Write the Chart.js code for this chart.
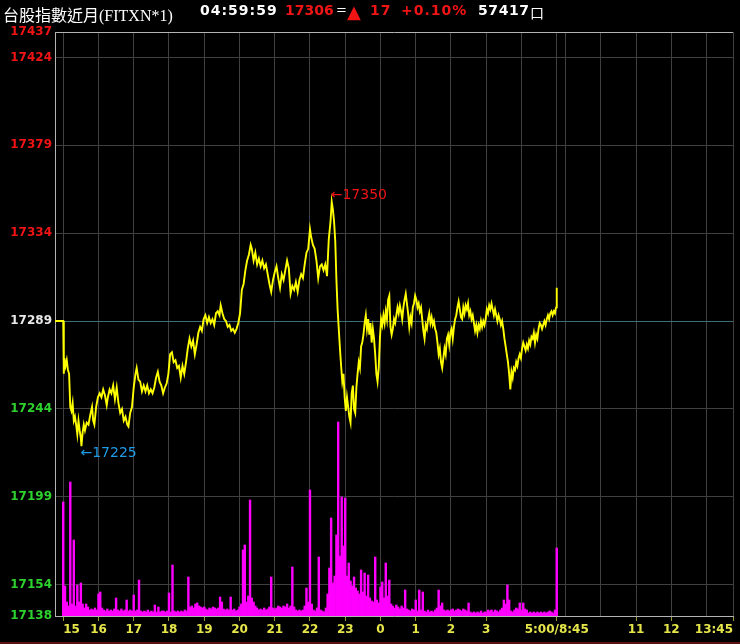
<!DOCTYPE html>
<html>
<head>
<meta charset="utf-8">
<script src="https://cdn.jsdelivr.net/npm/chart.js@4.4.1/dist/chart.umd.min.js"></script>
<style>
  html, body { margin: 0; padding: 0; background: #000; }
  #wrap { position: relative; width: 740px; height: 644px; overflow: hidden; }
  #chart { position: absolute; left: 0; top: 0; }
  .hd { position: absolute; top: 2px; line-height: 20px; white-space: nowrap; }
  .name { font: 16px "Liberation Serif", "Noto Sans CJK TC", serif; color: #fff; }
  .b { font: bold 14px "DejaVu Sans", sans-serif; }
  .white { color: #fff; }
  .red { color: #f01414; }
  #edge { position: absolute; left: 0; bottom: 0; width: 740px; height: 2px; background: #5a1212; }
</style>
</head>
<body>
<div id="wrap">
  <canvas id="chart" width="740" height="644"></canvas>
  <span class="hd name" style="left:3px">台股指數近月(FITXN*1)</span>
  <span class="hd b white" style="left:200px;letter-spacing:1px">04:59:59</span>
  <span class="hd b red" style="left:285px">17306</span>
  <span class="hd white" style="left:336px;font:13px 'DejaVu Sans'">=</span>
  <span class="hd red" style="left:347px;top:1px;font:18px 'DejaVu Sans'">▲</span>
  <span class="hd b red" style="left:370px;letter-spacing:1px">17</span>
  <span class="hd b red" style="left:401px;letter-spacing:1px">+0.10%</span>
  <span class="hd b white" style="left:478px;letter-spacing:0.6px">57417</span>
  <span class="hd white" style="left:530px;font:14px 'Noto Sans CJK TC'">口</span>
  <div id="edge"></div>
</div>
<script>
// minutes since 15:00 (night session 15:00-05:00, then day session 08:45-13:45)
const priceTimes = [
  -14, 0, 1, 2, 4, 6, 8, 10, 12, 14, 16, 18, 20, 22, 24, 26, 28, 30, 31, 33, 35, 37, 40, 43, 46, 49, 51, 53, 56, 59,
  62, 65, 68, 71, 74, 76, 79, 82, 85, 88, 91, 94, 97, 100, 103, 106, 109, 111, 114, 117, 120, 123, 125, 128, 131, 134, 137, 140, 143, 146,
  149, 152, 155, 158, 161, 164, 167, 170, 173, 176, 179, 182, 185, 188, 191, 194, 197, 200, 203, 206, 209, 212, 215, 218, 221, 224, 227, 230, 233, 236,
  239, 242, 245, 248, 251, 254, 257, 260, 263, 266, 268, 271, 274, 277, 280, 283, 286, 289, 292, 295, 298, 301, 304, 307, 310, 313, 316, 319, 321, 324,
  327, 330, 333, 336, 339, 342, 345, 348, 351, 354, 357, 360, 363, 366, 369, 372, 375, 378, 381, 384, 387, 390, 393, 396, 399, 402, 405, 408, 411, 414,
  417, 420, 422, 425, 428, 431, 434, 437, 440, 443, 446, 449, 452, 455, 457, 459, 461, 463, 465, 467, 469, 471, 473, 475, 477, 479, 481, 483, 485, 487,
  489, 491, 493, 495, 497, 499, 501, 503, 505, 507, 509, 511, 513, 515, 517, 519, 521, 523, 525, 527, 529, 531, 533, 535, 537, 539, 541, 543, 545, 547,
  549, 551, 553, 555, 557, 559, 561, 563, 565, 567, 569, 571, 573, 575, 577, 579, 581, 583, 585, 587, 589, 591, 593, 595, 597, 599, 601, 603, 605, 607,
  609, 611, 613, 615, 617, 619, 621, 623, 625, 627, 629, 631, 633, 635, 637, 639, 641, 643, 645, 647, 649, 651, 653, 655, 657, 659, 661, 663, 665, 667,
  669, 671, 673, 675, 677, 679, 681, 683, 685, 687, 689, 691, 693, 695, 697, 699, 701, 703, 705, 707, 709, 711, 713, 715, 717, 719, 721, 723, 725, 727,
  729, 731, 733, 735, 737, 739, 741, 743, 745, 747, 749, 751, 753, 755, 757, 759, 761, 763, 765, 767, 769, 771, 773, 775, 777, 779, 781, 783, 785, 787,
  789, 791, 793, 795, 797, 799, 801, 803, 805, 807, 809, 811, 813, 815, 817, 819, 821, 823, 825, 827, 829, 831, 833, 835, 837, 838, 839, 840
];
const prices = [
  17289, 17289, 17262, 17270, 17266, 17269, 17264, 17262, 17245, 17243, 17247, 17238, 17240, 17236, 17231, 17238, 17233, 17229, 17225, 17232, 17236, 17233, 17237, 17236, 17241, 17245, 17238, 17236, 17245, 17250,
  17252, 17250, 17254, 17251, 17246, 17250, 17254, 17252, 17256, 17249, 17255, 17247, 17242, 17244, 17238, 17240, 17236, 17235, 17242, 17245, 17255, 17262, 17265, 17259, 17258, 17253, 17256, 17253, 17256, 17252,
  17254, 17252, 17255, 17260, 17263, 17258, 17256, 17252, 17255, 17257, 17262, 17272, 17273, 17268, 17269, 17265, 17266, 17260, 17266, 17262, 17268, 17275, 17280, 17276, 17279, 17272, 17277, 17283, 17286, 17284,
  17290, 17292, 17288, 17291, 17288, 17290, 17287, 17293, 17294, 17292, 17297, 17293, 17290, 17289, 17286, 17287, 17284, 17285, 17283, 17285, 17288, 17293, 17305, 17308, 17315, 17320, 17323, 17328, 17326, 17320,
  17324, 17318, 17321, 17317, 17320, 17316, 17318, 17313, 17308, 17304, 17310, 17314, 17317, 17311, 17306, 17313, 17310, 17315, 17320, 17316, 17303, 17307, 17305, 17309, 17304, 17310, 17313, 17311, 17318, 17324,
  17326, 17336, 17332, 17328, 17326, 17320, 17311, 17317, 17318, 17315, 17318, 17312, 17331, 17340, 17350, 17346, 17340, 17330, 17310, 17295, 17285, 17275, 17266, 17258, 17262, 17250, 17243, 17250, 17245, 17240,
  17237, 17252, 17256, 17244, 17242, 17255, 17262, 17268, 17265, 17276, 17278, 17282, 17288, 17292, 17285, 17290, 17282, 17288, 17278, 17285, 17280, 17272, 17262, 17258, 17265, 17280, 17290, 17287, 17292, 17288,
  17294, 17290, 17300, 17302, 17286, 17282, 17285, 17290, 17288, 17292, 17296, 17293, 17297, 17294, 17290, 17296, 17300, 17303, 17298, 17293, 17286, 17291, 17288, 17296, 17298, 17302, 17300, 17296, 17298, 17294,
  17296, 17290, 17284, 17280, 17287, 17285, 17290, 17293, 17288, 17291, 17287, 17289, 17285, 17283, 17278, 17272, 17275, 17268, 17265, 17270, 17275, 17272, 17280, 17282, 17277, 17283, 17285, 17280, 17286, 17290,
  17292, 17296, 17299, 17295, 17291, 17290, 17296, 17293, 17297, 17295, 17298, 17292, 17294, 17290, 17292, 17288, 17284, 17287, 17283, 17287, 17285, 17289, 17286, 17289, 17287, 17290, 17295, 17293, 17297, 17295,
  17298, 17295, 17292, 17295, 17292, 17289, 17292, 17290, 17287, 17289, 17285, 17280, 17276, 17272, 17268, 17262, 17254, 17263, 17260, 17265, 17264, 17268, 17266, 17270, 17272, 17270, 17275, 17278, 17276, 17274,
  17277, 17275, 17279, 17277, 17281, 17280, 17283, 17278, 17282, 17280, 17285, 17288, 17287, 17285, 17287, 17289, 17287, 17290, 17292, 17290, 17293, 17294, 17292, 17294, 17293, 17295, 17296, 17306
];
// volume per 3-minute slot, starting 15:00
const volStep = 3;
const volumes = [
  114, 30, 14, 10, 134, 12, 76, 10, 31, 14, 33, 12, 8, 12, 9, 6, 7, 6, 8, 6,
  22, 24, 8, 6, 5, 7, 5, 6, 5, 7, 18, 6, 5, 7, 5, 6, 16, 5, 6, 5,
  21, 5, 6, 36, 5, 4, 5, 4, 6, 4, 5, 4, 11, 4, 9, 4, 5, 5, 4, 5,
  23, 4, 51, 5, 4, 5, 4, 5, 4, 6, 5, 39, 9, 10, 8, 12, 13, 10, 9, 8,
  9, 7, 6, 8, 7, 9, 8, 7, 8, 19, 14, 7, 6, 7, 6, 19, 6, 7, 5, 6,
  9, 12, 66, 71, 14, 20, 116, 18, 14, 10, 8, 6, 7, 6, 8, 6, 7, 9, 39, 8,
  7, 8, 10, 9, 8, 10, 9, 12, 8, 10, 49, 9, 6, 5, 6, 5, 6, 10, 28, 14,
  126, 12, 6, 5, 8, 59, 6, 5, 4, 8, 22, 48, 98, 33, 40, 81, 194, 60, 119, 70,
  118, 40, 53, 35, 30, 39, 28, 25, 22, 46, 24, 43, 20, 41, 18, 15, 14, 59, 16, 13,
  29, 34, 18, 53, 20, 36, 12, 10, 8, 11, 9, 7, 10, 8, 26, 7, 6, 5, 7, 6,
  16, 5, 26, 6, 24, 5, 4, 6, 4, 5, 4, 6, 8, 26, 10, 13, 6, 5, 6, 5,
  6, 7, 5, 6, 7, 6, 5, 7, 6, 5, 13, 4, 3, 4, 3, 4, 3, 5, 3, 4,
  4, 6, 5, 6, 4, 6, 5, 4, 6, 8, 16, 12, 31, 16, 5, 4, 6, 8, 7, 13,
  6, 13, 7, 6, 3, 4, 3, 4, 3, 4, 3, 4, 3, 4, 3, 4, 5, 4, 3, 6, 68
];
const refPrice = 17289;
const yTicks = [17437, 17424, 17379, 17334, 17289, 17244, 17199, 17154, 17138];
const xTicks = [0, 60, 120, 180, 240, 300, 360, 420, 480, 540, 600, 660, 720, 780, 840, 855, 915, 975, 1035, 1095, 1140];
const xTickLabels = ['15', '16', '17', '18', '19', '20', '21', '22', '23', '0', '1', '2', '3', '', '5:00/8:45', '', '', '11', '12', '', '13:45'];

const RED = '#f01414', GREEN = '#2ed22e', YELLOW = '#e6e64a', GRID = '#404040', FRAME = '#b4b4b4';

const extremes = {
  id: 'extremes',
  afterDatasetsDraw(chart) {
    const { ctx, scales } = chart;
    const hi = Math.max(...prices), lo = Math.min(...prices);
    const tHi = priceTimes[prices.indexOf(hi)], tLo = priceTimes[prices.indexOf(lo)];
    ctx.save();
    ctx.font = '14px "DejaVu Sans"';
    ctx.textBaseline = 'middle';
    ctx.textAlign = 'left';
    ctx.fillStyle = RED;
    ctx.fillText('\u2190' + hi, scales.x.getPixelForValue(tHi) - 1, scales.y.getPixelForValue(hi) - 7);
    ctx.fillStyle = '#1e9be6';
    ctx.fillText('\u2190' + lo, scales.x.getPixelForValue(tLo) - 1, scales.y.getPixelForValue(lo) + 7);
    ctx.restore();
  }
};

new Chart(document.getElementById('chart'), {
  type: 'line',
  data: {
    datasets: [
      {
        type: 'line',
        data: priceTimes.map((t, i) => ({ x: t, y: prices[i] })),
        yAxisID: 'y',
        borderColor: '#ffff00',
        borderWidth: 1.9,
        pointRadius: 0,
        tension: 0,
        order: 0
      },
      {
        type: 'bar',
        data: volumes.map((v, i) => ({ x: i * volStep, y: v })),
        yAxisID: 'yv',
        backgroundColor: '#ff00ff',
        barPercentage: 1,
        categoryPercentage: 1,
        order: 1
      }
    ]
  },
  options: {
    responsive: false,
    animation: false,
    layout: { padding: { top: 32, right: 7, left: 0, bottom: 0 } },
    plugins: { legend: { display: false }, tooltip: { enabled: false } },
    scales: {
      x: {
        type: 'linear',
        position: 'bottom',
        offset: false,
        min: -14,
        max: 1140,
        afterFit: s => { s.height = 28; },
        afterBuildTicks: s => { s.ticks = xTicks.map(v => ({ value: v })); },
        ticks: {
          autoSkip: false,
          maxRotation: 0,
          align: 'inner',
          color: YELLOW,
          padding: 2,
          font: { family: 'DejaVu Sans', size: 12, weight: 'bold' },
          callback: (v, i) => xTickLabels[i]
        },
        grid: {
          offset: false,
          color: GRID,
          tickLength: 5,
          tickColor: c => (xTickLabels[c.index] ? '#9a9a30' : 'rgba(0,0,0,0)')
        },
        border: { color: FRAME }
      },
      y: {
        type: 'linear',
        position: 'left',
        min: 17138,
        max: 17437,
        afterFit: s => { s.width = 55; },
        afterBuildTicks: s => { s.ticks = yTicks.map(v => ({ value: v })); },
        ticks: {
          autoSkip: false,
          padding: 3,
          font: { family: 'DejaVu Sans', size: 12, weight: 'bold' },
          color: c => (c.tick.value > refPrice ? RED : c.tick.value < refPrice ? GREEN : '#e8e8e8'),
          callback: v => String(v)
        },
        grid: {
          drawTicks: false,
          color: c => (c.tick.value === refPrice ? '#3d6e78' : c.tick.value === 17437 ? FRAME : GRID)
        },
        border: { color: FRAME }
      },
      yv: { type: 'linear', display: false, min: 0, max: 584 }
    }
  },
  plugins: [extremes]
});
</script>
</body>
</html>
